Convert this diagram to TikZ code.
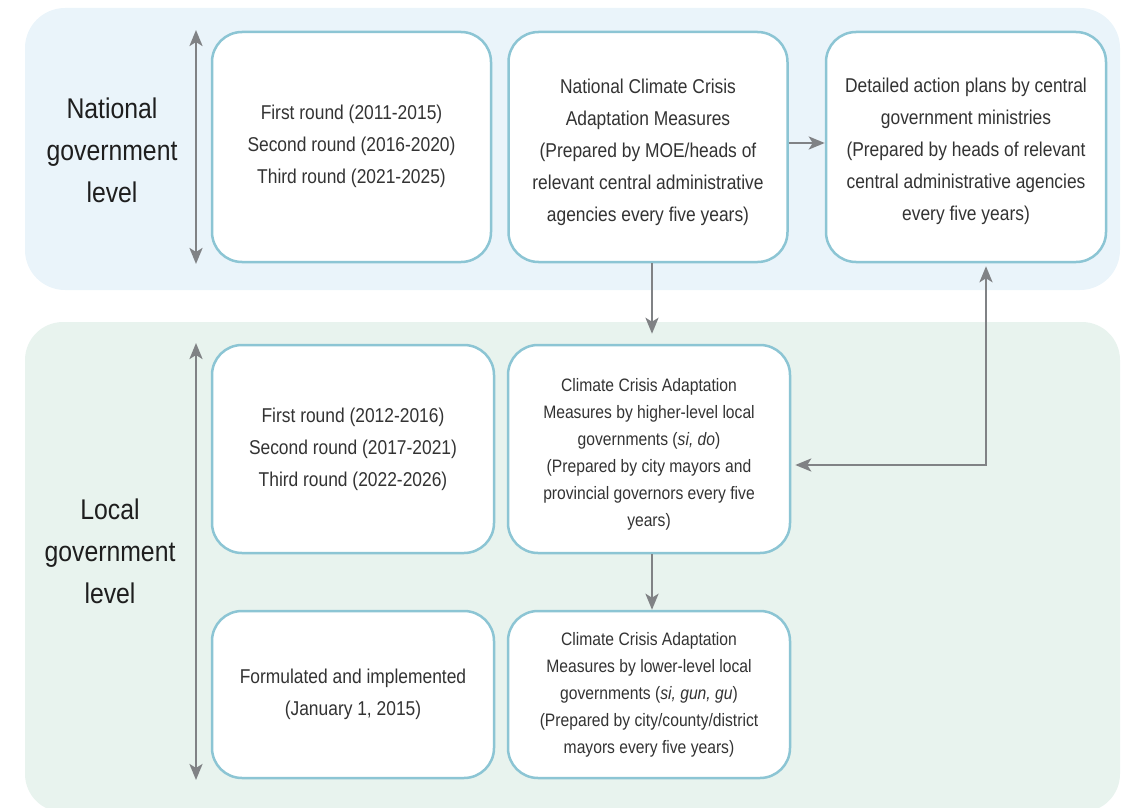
\documentclass[tikz,border=0pt]{standalone}
\usepackage{fontspec}
\setmainfont{Liberation Sans}[FakeStretch=0.87]
\usetikzlibrary{arrows.meta}
\definecolor{panelblue}{HTML}{EAF4FA}
\definecolor{panelgreen}{HTML}{E8F3EE}
\definecolor{boxline}{HTML}{8CC5D4}
\definecolor{arrowgray}{HTML}{808285}
\definecolor{txt}{HTML}{333333}
\definecolor{titletxt}{HTML}{1E1E1E}
\newcommand{\lowered}[2]{\raisebox{-#1}[\height][\depth]{\begin{tabular}{@{}c@{}}#2\end{tabular}}}
\tikzset{
  box/.style={draw=boxline, line width=2.5pt, fill=white, rounded corners=30pt,
    align=center, text=txt, inner sep=0pt, minimum width=279pt,
    font=\fontsize{20}{32}\selectfont},
  smallbox/.style={box, font=\fontsize{18}{27}\selectfont},
  leveltitle/.style={align=center, text=titletxt, font=\fontsize{28.5}{42}\selectfont},
  arr/.style={draw=arrowgray, line width=2.6pt, -{Stealth[length=16pt,width=13pt,inset=4pt]}},
  dblarr/.style={draw=arrowgray, line width=2.6pt, {Stealth[length=16pt,width=13pt,inset=4pt]}-{Stealth[length=16pt,width=13pt,inset=4pt]}}
}
\begin{document}
\begin{tikzpicture}[x=1pt,y=-1pt]
\useasboundingbox (0,0) rectangle (1133,808);
% panels
\fill[panelblue, rounded corners=40pt] (25,8) rectangle (1120,290);
\fill[panelgreen, rounded corners=38pt] (25,322) rectangle (1120,812);
% titles
\node[leveltitle] (nat) at (112,150) {National\\government\\level};
\node[leveltitle] (loc) at (110,551) {Local\\government\\level};
% level arrows
\coordinate (nt) at (196,30);
\coordinate (nb) at (196,264);
\coordinate (lt) at (196,343);
\coordinate (lb) at (196,780);
\draw[dblarr] (nt) -- (nb);
\draw[dblarr] (lt) -- (lb);
% national boxes
\node[box, minimum height=230pt] (A1) at (351.5,147)
  {\lowered{-2pt}{First round (2011-2015)\\Second round (2016-2020)\\Third round (2021-2025)}};
\node[box, minimum height=230pt] (A2) at (648,147)
  {\lowered{4pt}{National Climate Crisis\\Adaptation Measures\\(Prepared by MOE/heads of\\relevant central administrative\\agencies every five years)}};
\node[box, minimum height=230pt, minimum width=280pt] (A3) at (966,147)
  {\lowered{3pt}{Detailed action plans by central\\government ministries\\(Prepared by heads of relevant\\central administrative agencies\\every five years)}};
% local boxes
\node[box, minimum width=282pt, minimum height=208pt] (B1) at (353,449)
  {First round (2012-2016)\\Second round (2017-2021)\\Third round (2022-2026)};
\node[smallbox, minimum width=282pt, minimum height=208pt] (B2) at (649,449)
  {\lowered{5pt}{Climate Crisis Adaptation\\Measures by higher-level local\\governments (\textit{si, do})\\(Prepared by city mayors and\\provincial governors every five\\years)}};
\node[box, minimum width=282pt, minimum height=167pt] (C1) at (353,694.5)
  {Formulated and implemented\\(January 1, 2015)};
\node[smallbox, minimum width=282pt, minimum height=167pt] (C2) at (649,694.5)
  {Climate Crisis Adaptation\\Measures by lower-level local\\governments (\textit{si, gun, gu})\\(Prepared by city/county/district\\mayors every five years)};
% connectors
\draw[arr] ([yshift=4pt]A2.east) -- ([yshift=4pt]A3.west);
\draw[arr, shorten >=10pt] ([xshift=4pt]A2.south) -- ([xshift=3pt]B2.north);
\draw[arr] ([xshift=3pt]B2.south) -- ([xshift=3pt]C2.north);
\draw[dblarr, shorten <=4pt, shorten >=3pt] ([yshift=-16pt]B2.east) -| ([xshift=20pt]A3.south);
\end{tikzpicture}
\end{document}
